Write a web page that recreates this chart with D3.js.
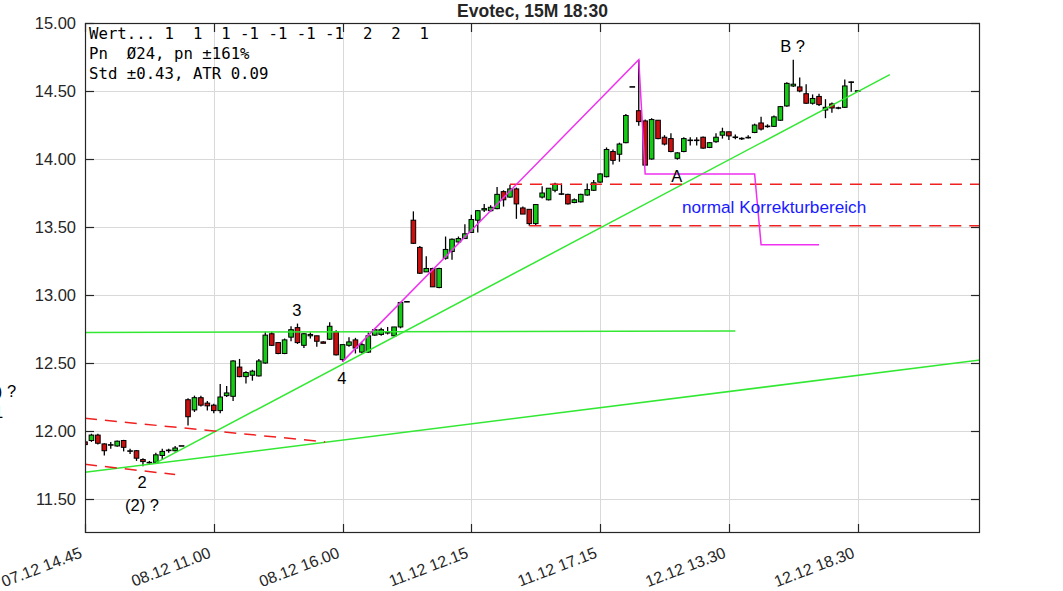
<!DOCTYPE html>
<html><head><meta charset="utf-8">
<script src="https://cdn.jsdelivr.net/npm/d3@7"></script>
<style>body{margin:0;background:#fff} svg{display:block}</style>
</head><body><svg id="c" width="1063" height="591"></svg>
<script>
// ---- data ----
const title = "Evotec, 15M 18:30";
const open = [11.92,11.93,11.97,11.905,11.895,11.89,11.93,11.855,11.855,11.79, 11.77,11.77,11.82,11.855,11.855,11.89,12.23,12.155,12.245,12.205, 12.19,12.15,12.26,12.255,12.47,12.40,12.41,12.405,12.50,12.715, 12.65,12.57,12.69,12.76,12.63,12.70,12.70,12.655,12.675,12.73, 12.525,12.63,12.67,12.58,12.58,12.705,12.71,12.725,12.70,12.765, 12.95,13.55,13.35,13.17,13.195,13.055,13.27,13.32,13.39,13.415, 13.46,13.55,13.625,13.62,13.635,13.76,13.72,13.78,13.64,13.63, 13.525,13.72,13.70,13.77,13.745,13.74,13.68,13.685,13.735,13.77, 13.83,13.87,14.055,14.035,14.12,14.53,14.355,14.28,14.00,14.285, 14.16,14.15,14.005,14.055,14.135,14.135,14.16,14.085,14.127,14.175, 14.20,14.16,14.15,14.155,14.195,14.265,14.24,14.24,14.285,14.39, 14.537,14.53,14.48,14.41,14.46,14.36,14.405,14.375,14.38,14.565, 14.50];
const high = [11.93,11.98,11.98,11.91,11.92,11.93,11.935,11.87,11.86,11.80, 11.78,11.84,11.87,11.87,11.89,11.89,12.24,12.26,12.26,12.22, 12.20,12.345,12.33,12.52,12.53,12.44,12.45,12.53,12.73,12.73, 12.65,12.68,12.77,12.79,12.72,12.725,12.70,12.66,12.80,12.74, 12.635,12.69,12.685,12.65,12.725,12.755,12.76,12.765,12.765,12.95, 12.95,13.615,13.36,13.285,13.20,13.20,13.43,13.415,13.43,13.52, 13.59,13.625,13.67,13.66,13.795,13.77,13.81,13.79,13.65,13.63, 13.67,13.80,13.785,13.825,13.82,13.745,13.71,13.745,13.82,13.845, 13.895,14.085,14.07,14.12,14.33,14.53,14.73,14.29,14.30,14.285, 14.175,14.19,14.05,14.16,14.16,14.16,14.165,14.125,14.19,14.23, 14.20,14.18,14.16,14.175,14.26,14.31,14.255,14.32,14.39,14.565, 14.73,14.60,14.55,14.475,14.48,14.44,14.415,14.385,14.585,14.57, 14.50];
const low = [11.89,11.92,11.90,11.82,11.87,11.885,11.85,11.83,11.78,11.74, 11.76,11.76,11.79,11.84,11.85,11.89,12.04,12.14,12.18,12.15, 12.13,12.13,12.25,12.22,12.395,12.35,12.37,12.40,12.495,12.625, 12.565,12.565,12.66,12.64,12.61,12.68,12.62,12.645,12.67,12.555, 12.51,12.62,12.57,12.57,12.575,12.70,12.70,12.71,12.695,12.755, 12.95,13.375,13.155,13.17,13.06,13.05,13.26,13.26,13.38,13.415, 13.455,13.46,13.61,13.61,13.63,13.65,13.715,13.56,13.595,13.51, 13.51,13.71,13.695,13.755,13.735,13.665,13.675,13.68,13.73,13.765, 13.825,13.865,13.96,13.98,14.115,14.53,14.245,13.955,13.995,14.145, 14.10,14.05,13.995,14.05,14.10,14.10,14.075,14.08,14.12,14.15, 14.14,14.145,14.14,14.15,14.19,14.21,14.23,14.235,14.28,14.385, 14.53,14.49,14.405,14.40,14.39,14.30,14.34,14.365,14.375,14.495, 14.50];
const close = [11.90,11.97,11.91,11.855,11.90,11.925,11.88,11.85,11.80,11.775, 11.765,11.825,11.85,11.86,11.875,11.89,12.105,12.245,12.19,12.185, 12.15,12.25,12.28,12.515,12.40,12.43,12.44,12.515,12.705,12.63, 12.57,12.67,12.745,12.65,12.715,12.71,12.66,12.645,12.77,12.56, 12.635,12.655,12.61,12.635,12.70,12.745,12.745,12.72,12.765,12.945, 12.95,13.38,13.16,13.195,13.06,13.195,13.335,13.41,13.415,13.45, 13.555,13.62,13.635,13.645,13.74,13.70,13.78,13.67,13.595,13.525, 13.665,13.75,13.785,13.815,13.74,13.67,13.70,13.74,13.775,13.825, 13.89,14.07,13.99,14.11,14.32,14.53,14.275,13.955,14.29,14.15, 14.11,14.055,14.045,14.15,14.14,14.14,14.08,14.12,14.16,14.20, 14.17,14.16,14.15,14.16,14.25,14.22,14.24,14.31,14.385,14.556, 14.55,14.50,14.41,14.445,14.40,14.38,14.375,14.375,14.537,14.565, 14.50];
const yTicks = [11.5, 12.0, 12.5, 13.0, 13.5, 14.0, 14.5, 15.0];
const xTickIdx = [0, 20, 40, 60, 80, 100, 120];
const xTickLabels = ["07.12 14.45","08.12 11.00","08.12 16.00","11.12 12.15","11.12 17.15","12.12 13.30","12.12 18.30"];
const legendLines = ["Wert... 1  1  1 -1 -1 -1 -1  2  2  1", "Pn  \u00D824, pn \u00B1161%", "Std \u00B10.43, ATR 0.09"];
const redDashed = [[[0,12.093],[37.3,11.92]], [[0,11.755],[14,11.68]], [[66,13.815],[139,13.815]], [[69,13.51],[139,13.51]]];
const greenLines = [[[0,12.725],[101,12.735]], [[11,11.765],[125,14.62]], [[0,11.696],[139,12.522]]];
const pinkPath = [[40,12.51],[86,14.73],[87,13.89],[104,13.89],[105,13.37],[114,13.37]];
const labels = [
  {t:"3", i:32.9, v:12.846}, {t:"4", i:39.9, v:12.346}, {t:"2", i:8.85, v:11.58},
  {t:"(2) ?", i:8.85, v:11.41}, {t:"A", i:91.9, v:13.83}, {t:"B ?", i:109.9, v:14.787}
];
const outsideLabels = [{t:"(1) ?", i:-10.7, v:12.25}, {t:"1", i:-12.7, v:12.096}];
const blueLabel = {t:"normal Korrekturbereich", i:92.7, v:13.603};

// ---- layout ----
const L = 85, R = 980, T = 23, B = 533;
const svg = d3.select("#c");
const x = d3.scaleLinear().domain([0, 139]).range([L, R]);
const y = d3.scaleLinear().domain([11.25, 15.0]).range([B, T]);
const font = "'Liberation Sans', Arial, sans-serif";

svg.append("defs").append("clipPath").attr("id","clip")
  .append("rect").attr("x",L).attr("y",T).attr("width",R-L).attr("height",B-T);

// grid
const grid = svg.append("g").attr("stroke","#d9d9d9").attr("stroke-width",1);
yTicks.forEach(v => grid.append("line").attr("x1",L).attr("x2",R).attr("y1",Math.round(y(v))+0.5).attr("y2",Math.round(y(v))+0.5));
xTickIdx.forEach(i => grid.append("line").attr("y1",T).attr("y2",B).attr("x1",Math.round(x(i))+0.5).attr("x2",Math.round(x(i))+0.5));

const plot = svg.append("g").attr("clip-path","url(#clip)");

// candles
const idx = d3.range(open.length);
const bw = 4.6;
const cg = plot.append("g");
idx.forEach(i => {
  const cx = x(i);
  cg.append("line").attr("x1",cx).attr("x2",cx).attr("y1",y(high[i])).attr("y2",y(low[i]))
    .attr("stroke","#000").attr("stroke-width",1.3);
  const top = y(Math.max(open[i],close[i])), bot = y(Math.min(open[i],close[i]));
  const h = bot - top;
  if (h < 1.2) {
    cg.append("line").attr("x1",cx-bw/2-0.5).attr("x2",cx+bw/2+0.5).attr("y1",(top+bot)/2).attr("y2",(top+bot)/2)
      .attr("stroke","#000").attr("stroke-width",1.6);
  } else {
    cg.append("rect").attr("x",cx-bw/2).attr("y",top).attr("width",bw).attr("height",h)
      .attr("fill", close[i] > open[i] ? "#14cc14" : "#cc1010").attr("stroke","#000").attr("stroke-width",1);
  }
});

// lines
const line = d3.line().x(d => x(d[0])).y(d => y(d[1]));
greenLines.forEach(p => plot.append("path").attr("d",line(p)).attr("fill","none").attr("stroke","#33e833").attr("stroke-width",1.5));
redDashed.forEach(p => plot.append("path").attr("d",line(p)).attr("fill","none").attr("stroke","#f02020").attr("stroke-width",1.5).attr("stroke-dasharray","12,8"));
plot.append("path").attr("d",line(pinkPath)).attr("fill","none").attr("stroke","#f030f0").attr("stroke-width",1.5);

// border
svg.append("rect").attr("x",L+0.5).attr("y",T+0.5).attr("width",R-L-1).attr("height",B-T-1)
  .attr("fill","none").attr("stroke","#262626").attr("stroke-width",1.2);

// ticks
const tk = svg.append("g").attr("stroke","#262626").attr("stroke-width",1.2);
yTicks.forEach(v => {
  const yy = Math.round(y(v))+0.5;
  tk.append("line").attr("x1",L).attr("x2",L+9).attr("y1",yy).attr("y2",yy);
  tk.append("line").attr("x1",R-9).attr("x2",R).attr("y1",yy).attr("y2",yy);
});
xTickIdx.forEach(i => {
  const xx = Math.round(x(i))+0.5;
  tk.append("line").attr("x1",xx).attr("x2",xx).attr("y1",B).attr("y2",B-9);
  tk.append("line").attr("x1",xx).attr("x2",xx).attr("y1",T).attr("y2",T+9);
});

// y labels
yTicks.forEach(v => svg.append("text").attr("x",76).attr("y",y(v)).attr("dy","0.36em")
  .attr("text-anchor","end").attr("font-family",font).attr("font-size",16.5).attr("fill","#262626").text(d3.format(".2f")(v)));

// x labels
xTickIdx.forEach((i,k) => svg.append("text")
  .attr("transform",`translate(${x(i)-2},557) rotate(-21)`)
  .attr("text-anchor","end").attr("font-family",font).attr("font-size",16).attr("fill","#262626").text(xTickLabels[k]));

// title
svg.append("text").attr("x",(L+R)/2).attr("y",16.5).attr("text-anchor","middle").attr("font-family",font)
  .attr("font-weight","bold").attr("font-size",17.5).attr("fill","#262626").text(title);

// legend
legendLines.forEach((t,k) => svg.append("text").attr("x",89).attr("y",39.3+20*k)
  .attr("font-family","'DejaVu Sans Mono', monospace").attr("font-size",15.7).attr("fill","#000")
  .attr("xml:space","preserve").style("white-space","pre").text(t));

// annotations
labels.forEach(d => svg.append("text").attr("x",x(d.i)).attr("y",y(d.v)).attr("text-anchor","middle")
  .attr("font-family",font).attr("font-size",16.5).attr("fill","#000").text(d.t));
outsideLabels.forEach(d => svg.append("text").attr("x",x(d.i)).attr("y",y(d.v)).attr("text-anchor","end")
  .attr("font-family",font).attr("font-size",16.5).attr("fill","#000").text(d.t));
svg.append("text").attr("x",x(blueLabel.i)).attr("y",y(blueLabel.v)).attr("font-family",font)
  .attr("font-size",17.2).attr("fill","#1a1aff").text(blueLabel.t);
</script></body></html>
